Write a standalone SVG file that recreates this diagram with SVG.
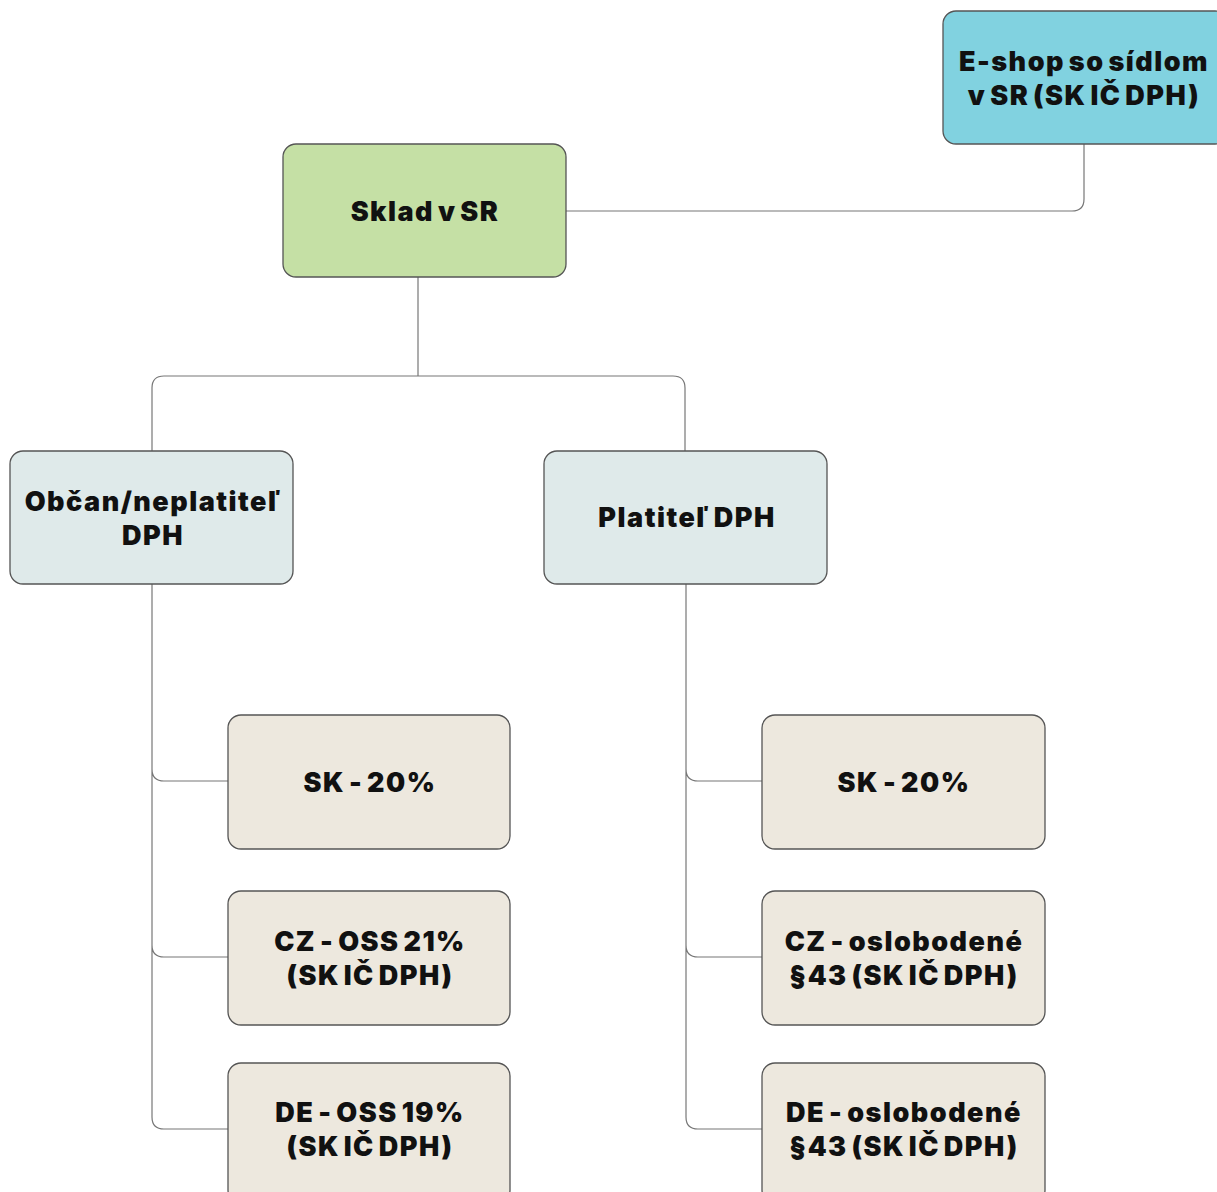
<svg xmlns="http://www.w3.org/2000/svg" width="1217" height="1192" viewBox="0 0 1217 1192">
<style>
.n{stroke:#555;stroke-width:1.3}
.t{font-family:Inter,"Noto Sans","Liberation Sans",sans-serif;font-weight:900;font-size:27px;letter-spacing:1.5px;word-spacing:-3px;fill:#111;text-anchor:middle}
.c{fill:none;stroke:#777;stroke-width:1.2}
.blue{fill:#81D2E0}.green{fill:#C5E0A5}.grey{fill:#DFEAEA}.beige{fill:#EDE8DE}
</style>
<rect width="1217" height="1192" fill="#fff"/>
<g id="connectors">
<path class="c" d="M1084 144 V199 Q1084 211 1072 211 H566"/>
<path class="c" d="M418 277 V376 M164 376 H673 M164 376 Q152 376 152 388 V451 M673 376 Q685 376 685 388 V451"/>
<path class="c" d="M152 584 V1117 Q152 1129 164 1129 H228 M152 769 Q152 781 164 781 H228 M152 945 Q152 957 164 957 H228"/>
<path class="c" d="M686 584 V1117 Q686 1129 698 1129 H762 M686 769 Q686 781 698 781 H762 M686 945 Q686 957 698 957 H762"/>
</g>
<g id="eshop"><rect class="n blue" x="943" y="11" width="285" height="133" rx="13"/><text class="t" x="1084" y="71">E-shop so sídlom</text><text class="t" x="1084" y="105">v SR (SK IČ DPH)</text></g>
<g id="sklad"><rect class="n green" x="283" y="144" width="283" height="133" rx="13"/><text class="t" x="425" y="221">Sklad v SR</text></g>
<g id="obcan"><rect class="n grey" x="10" y="451" width="283" height="133" rx="13"/><text class="t" x="153" y="511">Občan/neplatiteľ</text><text class="t" x="153" y="545">DPH</text></g>
<g id="platitel"><rect class="n grey" x="544" y="451" width="283" height="133" rx="13"/><text class="t" x="687" y="527">Platiteľ DPH</text></g>
<g id="l-sk"><rect class="n beige" x="228" y="715" width="282" height="134" rx="13"/><text class="t" x="370" y="792">SK - 20%</text></g>
<g id="l-cz"><rect class="n beige" x="228" y="891" width="282" height="134" rx="13"/><text class="t" x="370" y="951">CZ - OSS 21%</text><text class="t" x="370" y="985">(SK IČ DPH)</text></g>
<g id="l-de"><rect class="n beige" x="228" y="1063" width="282" height="140" rx="13"/><text class="t" x="370" y="1122">DE - OSS 19%</text><text class="t" x="370" y="1156">(SK IČ DPH)</text></g>
<g id="r-sk"><rect class="n beige" x="762" y="715" width="283" height="134" rx="13"/><text class="t" x="904" y="792">SK - 20%</text></g>
<g id="r-cz"><rect class="n beige" x="762" y="891" width="283" height="134" rx="13"/><text class="t" x="904" y="951">CZ - oslobodené</text><text class="t" x="904" y="985">§43 (SK IČ DPH)</text></g>
<g id="r-de"><rect class="n beige" x="762" y="1063" width="283" height="140" rx="13"/><text class="t" x="904" y="1122">DE - oslobodené</text><text class="t" x="904" y="1156">§43 (SK IČ DPH)</text></g>
</svg>
